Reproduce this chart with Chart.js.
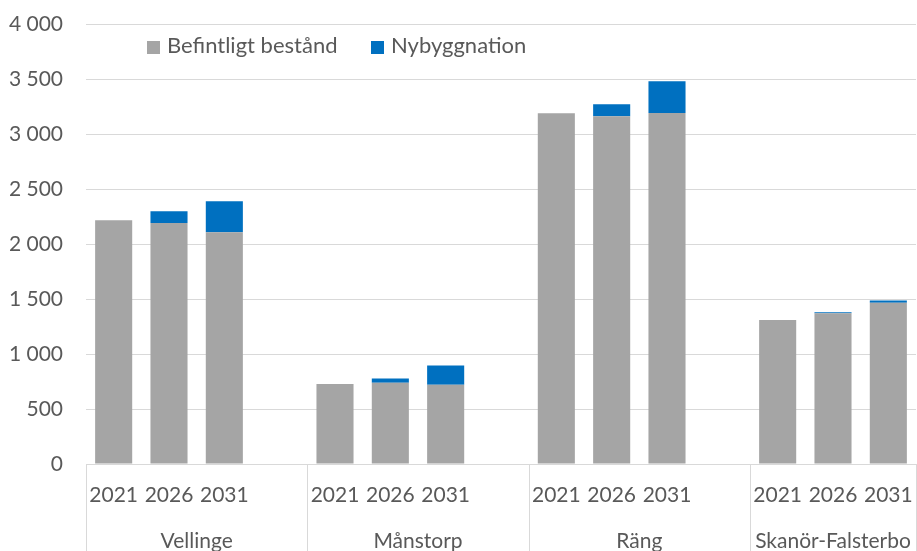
<!DOCTYPE html>
<html>
<head>
<meta charset="utf-8">
<script src="https://cdn.jsdelivr.net/npm/chart.js@4/dist/chart.umd.min.js"></script>
<style>
  html, body { margin: 0; padding: 0; background: #fff; overflow: hidden; }
  #wrap { width: 917px; height: 551px; }
</style>
</head>
<body>
<div id="wrap"><canvas id="chart" width="917" height="551"></canvas></div>
<script>
// data
var groups = ['Vellinge', 'Månstorp', 'Räng', 'Skanör-Falsterbo'];
var years = ['2021', '2026', '2031'];
var befintligt = [2216, 2192, 2107, 727, 738, 720, 3188, 3161, 3191, 1308, 1371, 1465];
var nybyggnation = [0, 106, 282, 0, 40, 176, 0, 109, 288, 0, 9, 22];
var seriesNames = ['Befintligt bestånd', 'Nybyggnation'];
var yMax = 4000;
var yStep = 500;

var GRAY = '#a5a5a5';
var BLUE = '#0070c0';
var TEXT = '#595959';
var LINE = '#d9d9d9';
var FONT = 'Lato';

// flat category list, an empty slot after each group except the last
var labels = [];
var dataB = [];
var dataN = [];
var groupStart = [];
for (var g = 0; g < groups.length; g++) {
    groupStart.push(labels.length);
    for (var y = 0; y < years.length; y++) {
        labels.push(years[y]);
        dataB.push(befintligt[g * years.length + y]);
        dataN.push(nybyggnation[g * years.length + y]);
    }
    if (g != groups.length - 1) {
        labels.push('');
        dataB.push(null);
        dataN.push(null);
    }
}

function fmt(v) {
    return String(v).replace(/\B(?=(\d{3})+(?!\d))/g, ' ');
}

var extras = {
    id: 'extras',
    afterDraw: function (chart) {
        var ctx = chart.ctx;
        var x = chart.scales.x;
        var area = chart.chartArea;
        var slot = (area.right - area.left) / labels.length;
        ctx.save();
        // separators of the group axis
        ctx.strokeStyle = LINE;
        ctx.lineWidth = 1;
        var seps = [];
        for (var g = 0; g < groups.length; g++) {
            seps.push(x.getPixelForTick(groupStart[g]) - slot / 2);
        }
        seps.push(area.right);
        for (var i = 0; i < seps.length; i++) {
            var sx = Math.round(seps[i]) + 0.5;
            ctx.beginPath();
            ctx.moveTo(sx, area.bottom);
            ctx.lineTo(sx, chart.height);
            ctx.stroke();
        }
        // group names
        ctx.fillStyle = TEXT;
        ctx.font = '21px ' + FONT;
        ctx.textAlign = 'center';
        ctx.textBaseline = 'alphabetic';
        for (var g = 0; g < groups.length; g++) {
            ctx.fillText(groups[g], (seps[g] + seps[g + 1]) / 2, 548);
        }
        // legend
        var colors = [GRAY, BLUE];
        var legendX = [147, 371];
        ctx.font = '22px ' + FONT;
        ctx.textAlign = 'left';
        for (var i = 0; i < seriesNames.length; i++) {
            ctx.fillStyle = colors[i];
            ctx.fillRect(legendX[i], 41, 13, 13);
            ctx.fillStyle = TEXT;
            ctx.fillText(seriesNames[i], legendX[i] + 20, 53);
        }
        ctx.restore();
    }
};

new Chart(document.getElementById('chart'), {
    type: 'bar',
    data: {
        labels: labels,
        datasets: [
            { label: seriesNames[0], data: dataB, backgroundColor: GRAY, borderWidth: 0 },
            { label: seriesNames[1], data: dataN, backgroundColor: BLUE, borderWidth: 0 }
        ]
    },
    options: {
        responsive: false,
        devicePixelRatio: 1,
        animation: false,
        categoryPercentage: 1,
        barPercentage: 0.67,
        layout: { padding: { top: 24, right: 1, left: 0, bottom: 0 } },
        plugins: { legend: { display: false }, tooltip: { enabled: false } },
        scales: {
            x: {
                stacked: true,
                offset: true,
                grid: { display: false, drawTicks: false },
                border: { display: true, color: LINE, width: 1 },
                ticks: {
                    autoSkip: false, maxRotation: 0, padding: 19,
                    color: TEXT, font: { family: FONT, size: 21 }
                },
                afterFit: function (s) {
                    s.height = 87;
                    s.paddingLeft = 0;
                    s.paddingRight = 0;
                }
            },
            y: {
                stacked: true,
                min: 0, max: yMax,
                grid: { color: LINE, lineWidth: 1, drawTicks: false },
                border: { display: false },
                ticks: {
                    stepSize: yStep, padding: 23,
                    color: TEXT, font: { family: FONT, size: 21 },
                    callback: function (v) { return fmt(v); }
                },
                afterFit: function (s) {
                    s.width = 86;
                    s.paddingTop = 0;
                    s.paddingBottom = 0;
                }
            }
        }
    },
    plugins: [extras]
});
</script>
</body>
</html>
